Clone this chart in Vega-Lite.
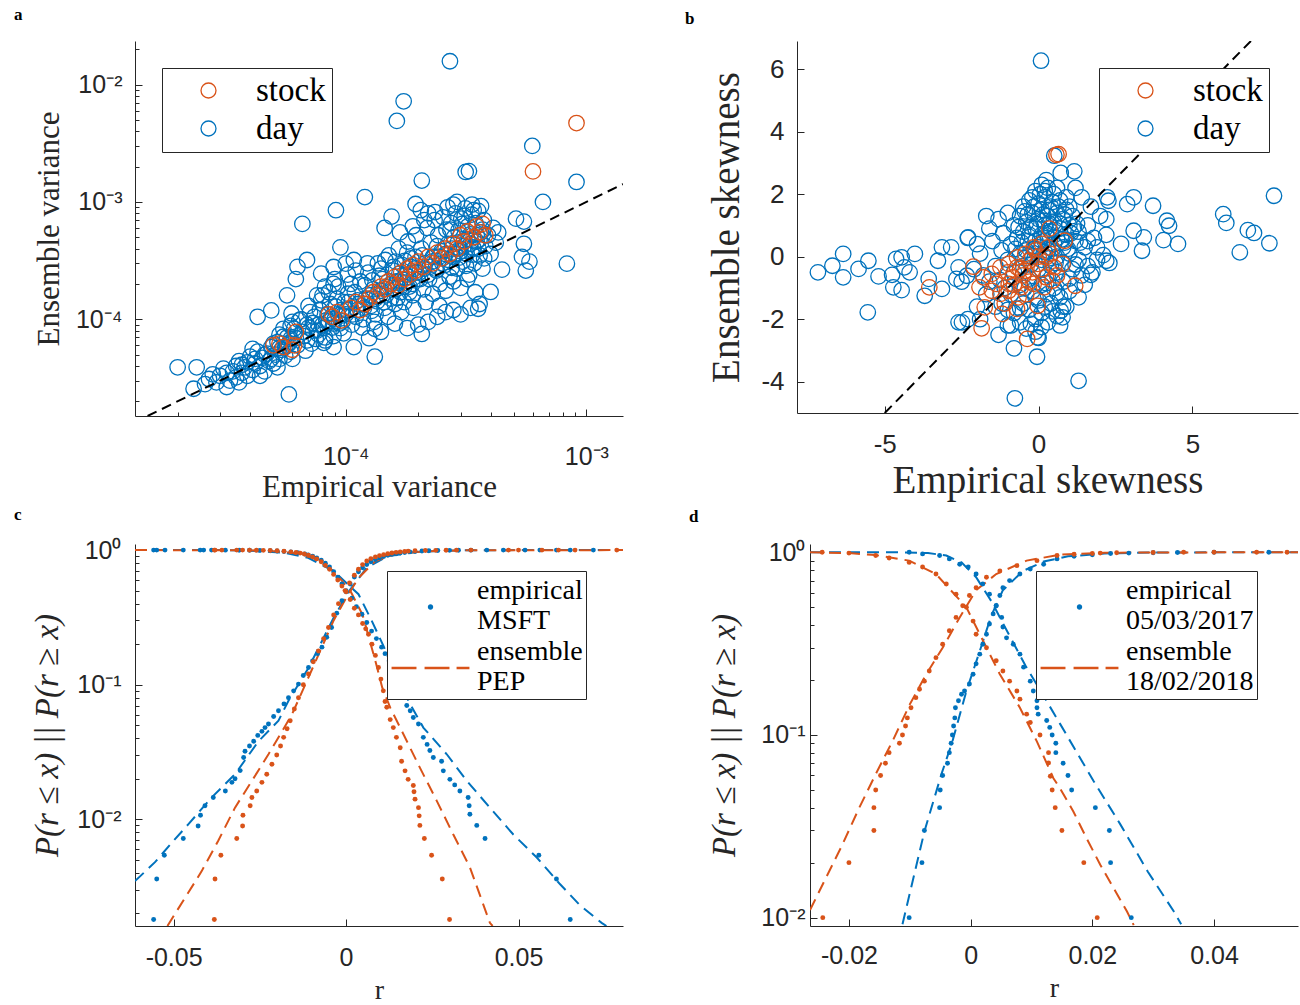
{
"$schema": "https://vega.github.io/schema/vega-lite/v6.json",
"padding": {"left": 14, "top": 6, "right": 2, "bottom": 2},
"config": {
  "view": {"stroke": null},
  "font": "Liberation Sans",
  "axis": {"grid": false, "domainColor": "#262626", "domainWidth": 1, "tickColor": "#262626", "tickWidth": 1, "labelColor": "#262626", "labelFont": "Liberation Sans", "labelFontSize": 25, "titleColor": "#262626", "titleFont": "Liberation Serif", "titleFontWeight": "normal", "labelOverlap": false, "labelFlush": false},
  "legend": {"labelColor": "black"}
},
"datasets": {
"a_day": [
{"x":27.1e-5,"y":1580e-5},{"x":17.4e-5,"y":720e-5},{"x":16.3e-5,"y":490e-5},{"x":59.6e-5,"y":300e-5},{"x":91e-5,"y":148e-5},{"x":31.5e-5,"y":180e-5},{"x":32.5e-5,"y":183e-5},{"x":20.7e-5,"y":152e-5},{"x":12e-5,"y":110e-5},{"x":66e-5,"y":100e-5},{"x":29e-5,"y":100e-5},{"x":19.5e-5,"y":96e-5},{"x":9.1e-5,"y":85e-5},{"x":6.6e-5,"y":65e-5},{"x":83e-5,"y":29.8e-5},{"x":9.5e-5,"y":41e-5},{"x":6.9e-5,"y":32e-5},{"x":6.3e-5,"y":28e-5},{"x":6.2e-5,"y":22e-5},{"x":44.6e-5,"y":26.5e-5},{"x":40e-5,"y":17.1e-5},{"x":35.5e-5,"y":12.3e-5},{"x":36e-5,"y":13.5e-5},{"x":20.7e-5,"y":7.5e-5},{"x":13.2e-5,"y":4.8e-5},{"x":5.8e-5,"y":2.29e-5},{"x":51e-5,"y":72e-5},{"x":55e-5,"y":68e-5},{"x":55e-5,"y":44e-5},{"x":54e-5,"y":34e-5},{"x":58e-5,"y":31e-5},{"x":56e-5,"y":26e-5},{"x":2.0e-5,"y":3.9e-5},{"x":2.4e-5,"y":3.9e-5},{"x":2.33e-5,"y":2.56e-5},{"x":3.2e-5,"y":2.65e-5},
{"x":2.6e-5,"y":2.8e-5},{"x":2.7e-5,"y":3.1e-5},{"x":2.8e-5,"y":3.4e-5},{"x":2.9e-5,"y":2.9e-5},{"x":3.0e-5,"y":3.3e-5},{"x":3.1e-5,"y":3.8e-5},{"x":3.3e-5,"y":3.0e-5},{"x":3.4e-5,"y":3.6e-5},{"x":3.5e-5,"y":4.0e-5},{"x":3.5e-5,"y":3.2e-5},{"x":3.6e-5,"y":4.4e-5},{"x":3.7e-5,"y":3.5e-5},{"x":3.8e-5,"y":3.9e-5},{"x":3.9e-5,"y":4.3e-5},{"x":3.9e-5,"y":3.3e-5},{"x":3.6e-5,"y":2.9e-5},{"x":4.0e-5,"y":4.8e-5},{"x":4.1e-5,"y":3.7e-5},{"x":4.2e-5,"y":4.2e-5},{"x":4.3e-5,"y":5.3e-5},{"x":4.4e-5,"y":4.0e-5},{"x":4.5e-5,"y":4.7e-5},{"x":4.6e-5,"y":3.6e-5},{"x":4.7e-5,"y":5.1e-5},{"x":4.8e-5,"y":4.4e-5},{"x":4.9e-5,"y":5.8e-5},{"x":4.4e-5,"y":3.3e-5},{"x":4.1e-5,"y":5.6e-5},{"x":5.0e-5,"y":4.2e-5},{"x":5.1e-5,"y":5.0e-5},{"x":5.2e-5,"y":6.4e-5},{"x":5.3e-5,"y":4.6e-5},{"x":5.4e-5,"y":5.5e-5},{"x":5.5e-5,"y":7.1e-5},{"x":5.6e-5,"y":4.9e-5},{"x":5.7e-5,"y":6.0e-5},{"x":5.9e-5,"y":5.3e-5},{"x":5.2e-5,"y":3.9e-5},{"x":5.5e-5,"y":8.3e-5},{"x":5.9e-5,"y":6.8e-5},
{"x":5.0e-5,"y":6.2e-5},{"x":5.3e-5,"y":7.4e-5},{"x":5.6e-5,"y":5.8e-5},{"x":5.9e-5,"y":8.8e-5},{"x":6.2e-5,"y":6.9e-5},{"x":6.4e-5,"y":9.8e-5},{"x":6.7e-5,"y":7.2e-5},{"x":7.0e-5,"y":8.5e-5},{"x":7.2e-5,"y":6.2e-5},{"x":7.4e-5,"y":10.5e-5},{"x":7.6e-5,"y":8.0e-5},{"x":7.8e-5,"y":12.0e-5},{"x":8.0e-5,"y":9.0e-5},{"x":8.2e-5,"y":7.0e-5},{"x":8.4e-5,"y":11.0e-5},{"x":8.6e-5,"y":13.5e-5},{"x":8.8e-5,"y":8.5e-5},{"x":9.0e-5,"y":10.0e-5},{"x":9.2e-5,"y":15.0e-5},{"x":9.4e-5,"y":9.2e-5},{"x":9.6e-5,"y":12.0e-5},{"x":9.8e-5,"y":7.6e-5},{"x":6.0e-5,"y":4.6e-5},{"x":6.8e-5,"y":5.4e-5},{"x":7.5e-5,"y":6.8e-5},{"x":8.1e-5,"y":6.3e-5},{"x":8.9e-5,"y":7.2e-5},{"x":9.7e-5,"y":10.8e-5},{"x":7.1e-5,"y":11.5e-5},{"x":7.9e-5,"y":14.5e-5},{"x":8.5e-5,"y":17.0e-5},{"x":9.3e-5,"y":19.0e-5},{"x":6.5e-5,"y":10.0e-5},{"x":7.3e-5,"y":9.3e-5},{"x":8.3e-5,"y":9.8e-5},{"x":9.1e-5,"y":12.8e-5},{"x":9.9e-5,"y":14.0e-5},{"x":6.1e-5,"y":8.3e-5},{"x":5.7e-5,"y":7.0e-5},{"x":6.9e-5,"y":9.0e-5},{"x":7.7e-5,"y":7.4e-5},{"x":8.7e-5,"y":10.4e-5},{"x":9.5e-5,"y":8.4e-5},
{"x":10.0e-5,"y":11.0e-5},{"x":10.3e-5,"y":14.0e-5},{"x":10.6e-5,"y":9.0e-5},{"x":10.9e-5,"y":17.0e-5},{"x":11.2e-5,"y":12.0e-5},{"x":11.5e-5,"y":21.0e-5},{"x":11.8e-5,"y":10.0e-5},{"x":12.1e-5,"y":15.0e-5},{"x":12.4e-5,"y":25.0e-5},{"x":12.7e-5,"y":13.0e-5},{"x":13.0e-5,"y":18.0e-5},{"x":13.3e-5,"y":11.0e-5},{"x":13.6e-5,"y":30.0e-5},{"x":13.9e-5,"y":16.0e-5},{"x":14.2e-5,"y":22.0e-5},{"x":14.5e-5,"y":12.5e-5},{"x":14.8e-5,"y":19.0e-5},{"x":15.1e-5,"y":35.0e-5},{"x":15.4e-5,"y":15.0e-5},{"x":15.7e-5,"y":26.0e-5},{"x":16.0e-5,"y":13.5e-5},{"x":16.3e-5,"y":21.0e-5},{"x":16.6e-5,"y":40.0e-5},{"x":16.9e-5,"y":17.0e-5},{"x":17.2e-5,"y":29.0e-5},{"x":17.5e-5,"y":14.0e-5},{"x":17.8e-5,"y":24.0e-5},{"x":18.1e-5,"y":46.0e-5},{"x":18.4e-5,"y":19.0e-5},{"x":18.7e-5,"y":33.0e-5},{"x":19.0e-5,"y":16.0e-5},{"x":19.3e-5,"y":27.0e-5},{"x":19.6e-5,"y":52.0e-5},{"x":19.9e-5,"y":22.0e-5},{"x":10.5e-5,"y":20.0e-5},{"x":11.0e-5,"y":26.0e-5},{"x":11.7e-5,"y":8.5e-5},{"x":12.3e-5,"y":30.0e-5},{"x":13.1e-5,"y":9.5e-5},{"x":14.0e-5,"y":27.0e-5},{"x":15.0e-5,"y":10.5e-5},{"x":16.1e-5,"y":31.0e-5},{"x":17.0e-5,"y":11.5e-5},{"x":18.0e-5,"y":37.0e-5},{"x":19.1e-5,"y":12.5e-5},{"x":10.2e-5,"y":16.5e-5},{"x":12.9e-5,"y":21.5e-5},{"x":14.6e-5,"y":32.0e-5},{"x":16.7e-5,"y":24.5e-5},{"x":18.6e-5,"y":28.0e-5},{"x":15.6e-5,"y":18.5e-5},{"x":13.5e-5,"y":14.2e-5},{"x":17.7e-5,"y":20.5e-5},{"x":19.5e-5,"y":34.0e-5},{"x":11.3e-5,"y":13.5e-5},
{"x":20.2e-5,"y":25.0e-5},{"x":20.6e-5,"y":40.0e-5},{"x":21.0e-5,"y":18.0e-5},{"x":21.4e-5,"y":30.0e-5},{"x":21.8e-5,"y":60.0e-5},{"x":22.2e-5,"y":22.0e-5},{"x":22.6e-5,"y":45.0e-5},{"x":23.0e-5,"y":34.0e-5},{"x":23.4e-5,"y":70.0e-5},{"x":23.8e-5,"y":26.0e-5},{"x":24.2e-5,"y":52.0e-5},{"x":24.6e-5,"y":20.0e-5},{"x":25.0e-5,"y":38.0e-5},{"x":25.4e-5,"y":74.0e-5},{"x":25.8e-5,"y":29.0e-5},{"x":26.2e-5,"y":58.0e-5},{"x":26.6e-5,"y":44.0e-5},{"x":27.0e-5,"y":23.0e-5},{"x":27.4e-5,"y":66.0e-5},{"x":27.8e-5,"y":34.0e-5},{"x":28.2e-5,"y":50.0e-5},{"x":28.6e-5,"y":80.0e-5},{"x":29.0e-5,"y":27.0e-5},{"x":29.4e-5,"y":57.0e-5},{"x":29.8e-5,"y":40.0e-5},{"x":30.2e-5,"y":72.0e-5},{"x":30.6e-5,"y":31.0e-5},{"x":31.0e-5,"y":47.0e-5},{"x":31.4e-5,"y":88.0e-5},{"x":31.8e-5,"y":36.0e-5},{"x":32.2e-5,"y":62.0e-5},{"x":32.6e-5,"y":24.0e-5},{"x":33.0e-5,"y":53.0e-5},{"x":33.4e-5,"y":78.0e-5},{"x":33.8e-5,"y":41.0e-5},{"x":34.2e-5,"y":30.0e-5},{"x":34.6e-5,"y":66.0e-5},{"x":35.0e-5,"y":46.0e-5},{"x":35.5e-5,"y":84.0e-5},{"x":36.0e-5,"y":35.0e-5},{"x":36.5e-5,"y":55.0e-5},{"x":37.0e-5,"y":27.0e-5},{"x":37.5e-5,"y":70.0e-5},{"x":38.0e-5,"y":42.0e-5},{"x":39.0e-5,"y":52.0e-5},{"x":40.0e-5,"y":36.0e-5},{"x":41.0e-5,"y":60.0e-5},{"x":42.0e-5,"y":45.0e-5},{"x":43.0e-5,"y":55.0e-5},{"x":21.5e-5,"y":14.0e-5},{"x":23.0e-5,"y":16.5e-5},{"x":24.5e-5,"y":13.0e-5},{"x":26.0e-5,"y":17.5e-5},{"x":28.0e-5,"y":21.0e-5},{"x":30.0e-5,"y":18.5e-5},{"x":32.0e-5,"y":22.0e-5},{"x":34.5e-5,"y":17.0e-5},{"x":22.0e-5,"y":80.0e-5},{"x":26.5e-5,"y":90.0e-5},{"x":30.5e-5,"y":65.0e-5},{"x":25.2e-5,"y":33.0e-5},{"x":27.6e-5,"y":27.5e-5},{"x":29.6e-5,"y":33.5e-5},{"x":31.6e-5,"y":28.5e-5},{"x":33.6e-5,"y":35.5e-5},{"x":35.6e-5,"y":40.0e-5},{"x":37.6e-5,"y":33.0e-5},{"x":20.8e-5,"y":35.0e-5},{"x":22.4e-5,"y":28.0e-5},{"x":24.0e-5,"y":42.0e-5},{"x":31.2e-5,"y":76.0e-5},
{"x":14.5e-5,"y":60e-5},{"x":15.5e-5,"y":75e-5},{"x":19.0e-5,"y":62e-5},{"x":20.5e-5,"y":85e-5},{"x":23.5e-5,"y":82e-5},{"x":28.0e-5,"y":95e-5},{"x":33.5e-5,"y":95e-5},{"x":36.5e-5,"y":92e-5},{"x":34.0e-5,"y":85e-5},{"x":21.2e-5,"y":70e-5},{"x":16.8e-5,"y":55e-5},{"x":27.2e-5,"y":58e-5},{"x":7.9e-5,"y":24.5e-5},{"x":8.9e-5,"y":27.9e-5},{"x":10e-5,"y":29.8e-5},{"x":10.8e-5,"y":32e-5},{"x":8.9e-5,"y":20e-5},{"x":8.2e-5,"y":19e-5},{"x":7.6e-5,"y":16e-5},{"x":5.7e-5,"y":16e-5},{"x":4.9e-5,"y":11.9e-5},{"x":4.3e-5,"y":10.5e-5},{"x":5.95e-5,"y":11.2e-5},{"x":13.2e-5,"y":8.3e-5},{"x":12.5e-5,"y":6.9e-5},{"x":10.8e-5,"y":5.8e-5},{"x":8.9e-5,"y":5.8e-5},{"x":8.2e-5,"y":6.6e-5},{"x":24e-5,"y":10.5e-5},{"x":26e-5,"y":11.5e-5},{"x":28e-5,"y":12.0e-5},{"x":30e-5,"y":11.0e-5},{"x":33e-5,"y":12.5e-5},{"x":22e-5,"y":9.5e-5},{"x":20e-5,"y":9.0e-5},{"x":18e-5,"y":8.4e-5},{"x":16e-5,"y":9.2e-5},{"x":14e-5,"y":7.8e-5},
{"x":3.2e-5,"y":3.5e-5},{"x":3.7e-5,"y":4.1e-5},{"x":4.2e-5,"y":4.6e-5},{"x":4.6e-5,"y":5.0e-5},{"x":4.9e-5,"y":4.6e-5},{"x":5.3e-5,"y":5.7e-5},{"x":5.8e-5,"y":6.2e-5},{"x":6.3e-5,"y":6.0e-5},{"x":6.6e-5,"y":7.8e-5},{"x":6.9e-5,"y":6.6e-5},{"x":7.3e-5,"y":8.0e-5},{"x":7.7e-5,"y":9.0e-5},{"x":8.1e-5,"y":8.4e-5},{"x":8.5e-5,"y":9.6e-5},{"x":8.9e-5,"y":9.2e-5},{"x":9.3e-5,"y":10.8e-5},{"x":9.7e-5,"y":9.6e-5},{"x":10.1e-5,"y":12.0e-5},{"x":10.7e-5,"y":11.0e-5},{"x":11.2e-5,"y":14.5e-5},{"x":11.9e-5,"y":12.5e-5},{"x":12.6e-5,"y":16.0e-5},{"x":13.3e-5,"y":15.0e-5},{"x":14.0e-5,"y":17.5e-5},{"x":14.7e-5,"y":16.0e-5},{"x":15.4e-5,"y":20.0e-5},{"x":16.1e-5,"y":18.0e-5},{"x":16.8e-5,"y":21.0e-5},{"x":17.5e-5,"y":19.0e-5},{"x":18.2e-5,"y":23.0e-5},{"x":18.9e-5,"y":20.0e-5},{"x":19.6e-5,"y":25.0e-5},{"x":20.4e-5,"y":22.0e-5},{"x":21.2e-5,"y":27.0e-5},{"x":22.0e-5,"y":24.0e-5},{"x":22.8e-5,"y":31.0e-5},{"x":23.6e-5,"y":27.0e-5},{"x":24.4e-5,"y":34.0e-5},{"x":25.2e-5,"y":30.0e-5},{"x":26.0e-5,"y":36.0e-5},{"x":26.8e-5,"y":32.0e-5},{"x":27.6e-5,"y":40.0e-5},{"x":28.4e-5,"y":36.0e-5},{"x":29.2e-5,"y":45.0e-5},{"x":30.0e-5,"y":38.0e-5},{"x":31.0e-5,"y":42.0e-5},{"x":32.0e-5,"y":48.0e-5},{"x":33.0e-5,"y":44.0e-5},{"x":34.0e-5,"y":40.0e-5},{"x":35.0e-5,"y":52.0e-5},{"x":36.0e-5,"y":48.0e-5},{"x":37.0e-5,"y":58.0e-5},{"x":12.0e-5,"y":19.5e-5},{"x":13.8e-5,"y":23.5e-5},{"x":15.8e-5,"y":28.0e-5},{"x":17.6e-5,"y":31.5e-5},{"x":11.0e-5,"y":10.5e-5},{"x":12.8e-5,"y":11.8e-5},{"x":14.4e-5,"y":14.0e-5},{"x":16.4e-5,"y":15.2e-5},{"x":18.4e-5,"y":17.0e-5},{"x":6.0e-5,"y":9.5e-5},{"x":7.0e-5,"y":13.0e-5},{"x":8.0e-5,"y":16.0e-5},{"x":9.0e-5,"y":22.0e-5},{"x":10.2e-5,"y":24.0e-5}
],
"a_stock": [
{"x":5.0e-5,"y":6.0e-5},{"x":5.3e-5,"y":6.2e-5},{"x":5.5e-5,"y":5.8e-5},{"x":6.0e-5,"y":5.5e-5},{"x":6.1e-5,"y":6.0e-5},{"x":6.2e-5,"y":7.8e-5},{"x":8.5e-5,"y":11.0e-5},{"x":8.8e-5,"y":10.5e-5},{"x":9.2e-5,"y":11.5e-5},{"x":9.6e-5,"y":9.8e-5},{"x":10.5e-5,"y":12.5e-5},{"x":11.0e-5,"y":14.0e-5},{"x":11.5e-5,"y":12.0e-5},{"x":12.0e-5,"y":13.5e-5},{"x":12.5e-5,"y":15.0e-5},{"x":13.0e-5,"y":17.0e-5},{"x":13.5e-5,"y":16.0e-5},{"x":14.0e-5,"y":19.0e-5},{"x":14.5e-5,"y":18.0e-5},{"x":15.0e-5,"y":21.0e-5},{"x":15.5e-5,"y":20.0e-5},{"x":16.0e-5,"y":23.0e-5},{"x":16.5e-5,"y":19.5e-5},{"x":17.0e-5,"y":25.0e-5},{"x":17.5e-5,"y":22.0e-5},{"x":18.0e-5,"y":27.0e-5},{"x":18.5e-5,"y":24.0e-5},{"x":19.0e-5,"y":29.0e-5},{"x":19.5e-5,"y":26.0e-5},{"x":20.0e-5,"y":31.0e-5},{"x":21.0e-5,"y":28.0e-5},{"x":22.0e-5,"y":34.0e-5},{"x":23.0e-5,"y":30.0e-5},{"x":24.0e-5,"y":37.0e-5},{"x":25.0e-5,"y":33.0e-5},{"x":26.0e-5,"y":40.0e-5},{"x":27.0e-5,"y":36.0e-5},{"x":28.0e-5,"y":44.0e-5},{"x":29.0e-5,"y":40.0e-5},{"x":30.0e-5,"y":52.0e-5},{"x":31.0e-5,"y":46.0e-5},{"x":32.0e-5,"y":56.0e-5},{"x":34.0e-5,"y":50.0e-5},{"x":35.0e-5,"y":62.0e-5},{"x":36.0e-5,"y":55.0e-5},{"x":37.0e-5,"y":65.0e-5},{"x":38.0e-5,"y":52.0e-5},{"x":60.0e-5,"y":182.0e-5},{"x":91.0e-5,"y":470.0e-5}
],
"b_day": [
{"x":0.1,"y":2.3},{"x":0.3,"y":2.2},{"x":-0.1,"y":2.1},{"x":0.5,"y":2.0},{"x":0.2,"y":1.9},{"x":-0.3,"y":1.8},{"x":0.7,"y":1.8},{"x":0.0,"y":1.7},{"x":0.4,"y":1.6},{"x":-0.5,"y":1.6},{"x":0.9,"y":1.5},{"x":0.1,"y":1.5},{"x":-0.2,"y":1.4},{"x":0.6,"y":1.4},{"x":0.3,"y":1.3},{"x":-0.6,"y":1.3},{"x":1.1,"y":1.3},{"x":0.0,"y":1.2},{"x":0.8,"y":1.2},{"x":-0.4,"y":1.1},{"x":0.5,"y":1.1},{"x":0.2,"y":1.0},{"x":-0.8,"y":1.0},{"x":1.0,"y":1.0},{"x":-0.1,"y":0.9},{"x":0.7,"y":0.9},{"x":0.4,"y":0.8},{"x":-0.5,"y":0.8},{"x":1.3,"y":0.8},{"x":0.1,"y":0.7},{"x":-0.3,"y":0.7},{"x":0.9,"y":0.7},{"x":0.6,"y":0.6},{"x":-0.7,"y":0.6},{"x":0.2,"y":0.5},{"x":1.2,"y":0.5},{"x":-0.1,"y":0.5},{"x":0.5,"y":0.4},{"x":-0.9,"y":0.4},{"x":0.8,"y":0.3},{"x":0.0,"y":0.3},{"x":1.5,"y":0.3},{"x":-0.4,"y":0.2},{"x":0.3,"y":0.2},{"x":1.0,"y":0.1},{"x":-0.6,"y":0.1},{"x":0.6,"y":0.0},{"x":-0.2,"y":0.0},{"x":1.3,"y":-0.1},{"x":0.1,"y":-0.1},{"x":-1.0,"y":-0.1},{"x":0.8,"y":-0.2},{"x":0.4,"y":-0.3},{"x":-0.5,"y":-0.3},{"x":1.1,"y":-0.4},{"x":0.0,"y":-0.4},{"x":0.6,"y":-0.5},{"x":-0.8,"y":-0.5},{"x":0.3,"y":-0.6},{"x":1.4,"y":-0.6},{"x":-0.3,"y":-0.7},{"x":0.8,"y":-0.8},{"x":0.1,"y":-0.9},{"x":-0.6,"y":-0.9},{"x":0.5,"y":-1.0},{"x":1.0,"y":-1.1},{"x":-0.2,"y":-1.1},{"x":0.3,"y":-1.2},{"x":-0.9,"y":-1.2},{"x":0.7,"y":-1.3},{"x":0.0,"y":-1.4},{"x":-0.5,"y":-1.5},{"x":0.4,"y":-1.5},{"x":-1.2,"y":-1.5},{"x":0.8,"y":-1.6},{"x":-0.3,"y":-1.7},{"x":0.1,"y":-1.8},{"x":-0.8,"y":-1.8},{"x":0.6,"y":-1.9},{"x":-0.1,"y":-2.0},{"x":-0.6,"y":-2.1},{"x":0.3,"y":-2.1},{"x":-0.4,"y":-2.3},{"x":-0.1,"y":-2.4},{"x":-0.9,"y":-2.2},{"x":0.0,"y":-2.6},
{"x":0.25,"y":2.45},{"x":0.05,"y":2.0},{"x":0.45,"y":1.75},{"x":-0.15,"y":1.6},{"x":0.65,"y":1.6},{"x":0.15,"y":1.35},{"x":0.35,"y":1.05},{"x":-0.35,"y":1.35},{"x":0.85,"y":1.35},{"x":-0.05,"y":1.05},{"x":0.55,"y":0.85},{"x":0.25,"y":0.75},{"x":-0.25,"y":0.95},{"x":0.75,"y":0.55},{"x":0.05,"y":0.55},{"x":0.45,"y":0.25},{"x":-0.15,"y":0.25},{"x":1.05,"y":0.75},{"x":-0.55,"y":0.45},{"x":0.95,"y":0.25},{"x":0.15,"y":0.05},{"x":-0.45,"y":-0.05},{"x":0.35,"y":-0.05},{"x":1.25,"y":1.05},{"x":-1.15,"y":0.75},{"x":-1.3,"y":1.2},{"x":-1.5,"y":0.5},{"x":-1.2,"y":0.2},{"x":-1.4,"y":-0.3},{"x":-1.7,"y":1.3},{"x":-1.8,"y":-0.6},{"x":-1.6,"y":-0.8},{"x":-1.9,"y":0.1},{"x":-2.1,"y":-0.4},{"x":-2.3,"y":0.6},{"x":-2.5,"y":-0.8},{"x":1.6,"y":1.0},{"x":1.8,"y":0.6},{"x":1.7,"y":1.6},{"x":1.9,"y":-0.1},{"x":2.0,"y":1.3},{"x":1.6,"y":-0.3},{"x":1.4,"y":1.9},{"x":1.2,"y":2.2},{"x":2.2,"y":0.7},{"x":2.2,"y":1.2},{"x":2.3,"y":-0.2},{"x":1.9,"y":0.3},{"x":1.5,"y":-0.9},{"x":1.0,"y":-0.7},{"x":0.9,"y":-1.6},{"x":0.7,"y":-2.2},{"x":-1.1,"y":-1.0},{"x":-1.4,"y":-1.6},{"x":-1.7,"y":-1.2},{"x":-2.0,"y":-1.6},{"x":-2.3,"y":-2.0},{"x":-2.6,"y":-2.1},{"x":-1.9,"y":-2.0},{"x":-1.3,"y":-2.5},{"x":-1.0,"y":-2.2},
{"x":0.2,"y":2.1},{"x":0.6,"y":2.2},{"x":-0.2,"y":1.9},{"x":0.9,"y":1.9},{"x":0.35,"y":1.5},{"x":-0.45,"y":1.45},{"x":1.0,"y":1.6},{"x":0.15,"y":1.15},{"x":0.7,"y":1.05},{"x":-0.65,"y":0.95},{"x":1.15,"y":0.95},{"x":0.3,"y":0.6},{"x":-0.35,"y":0.5},{"x":0.85,"y":0.45},{"x":1.35,"y":0.45},{"x":-0.75,"y":0.25},{"x":0.2,"y":0.15},{"x":0.55,"y":-0.2},{"x":-0.25,"y":-0.25},{"x":1.2,"y":-0.25},{"x":0.25,"y":-0.85},{"x":-0.45,"y":-1.0},{"x":0.6,"y":-1.15},{"x":-0.1,"y":-1.3},{"x":0.2,"y":-1.6},{"x":-0.6,"y":-1.65},{"x":0.45,"y":-1.75},{"x":-0.25,"y":-2.15},{"x":0.1,"y":-2.25},{"x":-1.0,"y":-1.7},{"x":-1.6,"y":0.9},{"x":-1.0,"y":1.4},{"x":1.6,"y":0.5},{"x":1.75,"y":-0.5},{"x":2.1,"y":0.05},{"x":-2.0,"y":0.4},{"x":-1.25,"y":-0.75},{"x":1.3,"y":-1.3},
{"x":0.08,"y":6.27},{"x":7.65,"y":1.95},{"x":6.0,"y":1.36},{"x":6.1,"y":1.08},{"x":6.8,"y":0.85},{"x":7.0,"y":0.76},{"x":7.5,"y":0.43},{"x":6.54,"y":0.14},{"x":3.72,"y":1.63},{"x":3.09,"y":1.9},{"x":2.88,"y":1.68},{"x":4.17,"y":1.15},{"x":4.24,"y":0.99},{"x":4.06,"y":0.53},{"x":4.53,"y":0.41},{"x":3.42,"y":0.62},{"x":3.36,"y":0.19},{"x":3.09,"y":0.83},{"x":2.68,"y":0.41},{"x":1.16,"y":2.73},{"x":0.72,"y":2.68},{"x":0.51,"y":3.23},{"x":1.3,"y":-3.97},{"x":-0.77,"y":-4.53},{"x":-0.05,"y":-3.2},{"x":-0.8,"y":-2.93},{"x":-5.55,"y":-1.78},{"x":-7.17,"y":-0.5},{"x":-6.7,"y":-0.29},{"x":-6.35,"y":0.09},{"x":-6.35,"y":-0.66},{"x":-5.85,"y":-0.39},{"x":-5.53,"y":-0.13},{"x":-5.2,"y":-0.63},{"x":-4.76,"y":-0.58},{"x":-4.63,"y":-0.07},{"x":-4.45,"y":-0.02},{"x":-4.72,"y":-0.98},{"x":-4.45,"y":-1.07},{"x":-4.36,"y":-0.34},{"x":-4.19,"y":-0.5},{"x":-4.02,"y":0.09},{"x":-3.57,"y":-0.71},{"x":-3.7,"y":-1.25},{"x":-3.14,"y":-1.03},{"x":-3.27,"y":-0.13},{"x":-3.14,"y":0.3},{"x":-2.84,"y":0.3},{"x":-2.6,"y":-0.34},{"x":-2.67,"y":-0.71},{"x":-2.33,"y":-0.61},{"x":-2.49,"y":-2.1},{"x":-2.29,"y":0.62},{"x":0.72,"y":-1.73},{"x":0.78,"y":-1.94},{"x":1.7,"y":-0.58},{"x":2.2,"y":-0.13},{"x":2.27,"y":1.79},{"x":2.23,"y":1.9},{"x":-0.03,"y":-2.58}
],
"b_stock": [
{"x":0.65,"y":3.28},{"x":0.58,"y":3.26},{"x":0.35,"y":0.9},{"x":0.85,"y":0.51},{"x":-3.55,"y":-0.98},{"x":-2.12,"y":-0.32},{"x":1.19,"y":-0.93},{"x":-1.85,"y":-2.29},{"x":-1.75,"y":-1.62},{"x":-0.37,"y":-2.63},{"x":-0.03,"y":-1.57},{"x":-1.18,"y":-1.83},{"x":-0.7,"y":-1.67},
{"x":-1.92,"y":-0.98},{"x":-1.79,"y":-0.66},{"x":-1.52,"y":-0.55},{"x":-1.24,"y":-0.34},{"x":-0.97,"y":-0.23},{"x":-0.70,"y":-0.02},{"x":-0.43,"y":0.09},{"x":-0.16,"y":0.30},{"x":0.11,"y":0.41},{"x":0.38,"y":0.09},{"x":0.51,"y":-0.34},{"x":0.78,"y":-0.23},{"x":0.24,"y":-0.66},{"x":-0.16,"y":-0.87},{"x":-0.57,"y":-0.98},{"x":-0.97,"y":-1.09},{"x":-1.24,"y":-1.19},{"x":-0.84,"y":-0.66},{"x":-0.43,"y":-0.45},{"x":-0.03,"y":-0.23},{"x":0.24,"y":-0.02},{"x":-0.70,"y":-0.34},{"x":-0.30,"y":-0.13},{"x":-0.97,"y":-0.87},{"x":-1.38,"y":-0.87},{"x":0.45,"y":-0.77},{"x":0.18,"y":-0.98},{"x":-1.52,"y":-1.09},
{"x":-0.5,"y":-0.6},{"x":-0.6,"y":-0.4},{"x":-0.2,"y":-0.5},{"x":-0.8,"y":-0.9},{"x":0.0,"y":0.0},{"x":-0.3,"y":-0.8},{"x":-1.0,"y":-0.5},{"x":0.1,"y":-0.4},{"x":-0.4,"y":-1.2},{"x":0.3,"y":0.3},{"x":-0.1,"y":0.2},{"x":-0.65,"y":-1.3},{"x":-1.1,"y":-1.5},{"x":0.6,"y":-0.6}
],
"c_bl": [
{"k":"cdf","x":-0.0612,"y":0.00347},{"k":"cdf","x":-0.0554,"y":0.0048},{"k":"cdf","x":-0.0505,"y":0.0067},{"k":"cdf","x":-0.0457,"y":0.0092},{"k":"cdf","x":-0.039,"y":0.0145},{"k":"cdf","x":-0.0322,"y":0.0216},{"k":"cdf","x":-0.0254,"y":0.038},{"k":"cdf","x":-0.0196,"y":0.054},{"k":"cdf","x":-0.0167,"y":0.076},{"k":"cdf","x":-0.0109,"y":0.133},{"k":"cdf","x":-0.0036,"y":0.314},{"k":"cdf","x":0.0012,"y":0.51},{"k":"cdf","x":0.006,"y":0.74},{"k":"cdf","x":0.012,"y":0.9},{"k":"cdf","x":0.0205,"y":0.97},{"k":"cdf","x":0.0326,"y":0.995},{"k":"cdf","x":0.05,"y":1.0},{"k":"cdf","x":0.0803,"y":1.0},
{"k":"ccdf","x":-0.0612,"y":1.0},{"k":"ccdf","x":-0.035,"y":1.0},{"k":"ccdf","x":-0.028,"y":0.99},{"k":"ccdf","x":-0.018,"y":0.955},{"k":"ccdf","x":-0.011,"y":0.877},{"k":"ccdf","x":-0.0036,"y":0.7},{"k":"ccdf","x":0.0036,"y":0.47},{"k":"ccdf","x":0.0074,"y":0.3},{"k":"ccdf","x":0.011,"y":0.19},{"k":"ccdf","x":0.0145,"y":0.115},{"k":"ccdf","x":0.0186,"y":0.0716},{"k":"ccdf","x":0.0224,"y":0.048},{"k":"ccdf","x":0.0292,"y":0.0304},{"k":"ccdf","x":0.035,"y":0.0193},{"k":"ccdf","x":0.0417,"y":0.0122},{"k":"ccdf","x":0.0485,"y":0.0077},{"k":"ccdf","x":0.0553,"y":0.0052},{"k":"ccdf","x":0.062,"y":0.0033},{"k":"ccdf","x":0.0678,"y":0.0023},{"k":"ccdf","x":0.0741,"y":0.0017},{"k":"ccdf","x":0.0755,"y":0.00161}
],
"c_ol": [
{"k":"cdf","x":-0.0518,"y":0.00161},{"k":"cdf","x":-0.0419,"y":0.0041},{"k":"cdf","x":-0.0371,"y":0.0069},{"k":"cdf","x":-0.0322,"y":0.0122},{"k":"cdf","x":-0.0273,"y":0.0193},{"k":"cdf","x":-0.0225,"y":0.0304},{"k":"cdf","x":-0.0157,"y":0.06},{"k":"cdf","x":-0.0097,"y":0.133},{"k":"cdf","x":-0.0036,"y":0.3},{"k":"cdf","x":0.0,"y":0.44},{"k":"cdf","x":0.0036,"y":0.62},{"k":"cdf","x":0.0085,"y":0.83},{"k":"cdf","x":0.0145,"y":0.94},{"k":"cdf","x":0.023,"y":0.98},{"k":"cdf","x":0.035,"y":0.997},{"k":"cdf","x":0.0803,"y":1.0},
{"k":"ccdf","x":-0.0612,"y":1.0},{"k":"ccdf","x":-0.03,"y":0.998},{"k":"ccdf","x":-0.023,"y":0.99},{"k":"ccdf","x":-0.0157,"y":0.955},{"k":"ccdf","x":-0.0097,"y":0.88},{"k":"ccdf","x":-0.0036,"y":0.7},{"k":"ccdf","x":0.0012,"y":0.5},{"k":"ccdf","x":0.0048,"y":0.33},{"k":"ccdf","x":0.0085,"y":0.15},{"k":"ccdf","x":0.0105,"y":0.095},{"k":"ccdf","x":0.0128,"y":0.0675},{"k":"ccdf","x":0.0166,"y":0.043},{"k":"ccdf","x":0.0214,"y":0.0242},{"k":"ccdf","x":0.0263,"y":0.0137},{"k":"ccdf","x":0.0311,"y":0.0077},{"k":"ccdf","x":0.0359,"y":0.0044},{"k":"ccdf","x":0.0417,"y":0.0017},{"k":"ccdf","x":0.0425,"y":0.00161}
],
"c_bd": [
{"x":-0.0558,"y":0.0018},{"x":-0.0549,"y":0.0036},{"x":-0.0527,"y":0.0054},{"x":-0.0472,"y":0.0072},{"x":-0.0429,"y":0.0089},{"x":-0.0422,"y":0.0107},{"x":-0.0409,"y":0.0126},{"x":-0.0385,"y":0.0145},{"x":-0.035,"y":0.0162},{"x":-0.0331,"y":0.0188},{"x":-0.0322,"y":0.02},{"x":-0.0307,"y":0.023},{"x":-0.0297,"y":0.0288},{"x":-0.0293,"y":0.032},{"x":-0.028,"y":0.035},{"x":-0.0268,"y":0.038},{"x":-0.0256,"y":0.042},{"x":-0.0244,"y":0.045},{"x":-0.0235,"y":0.048},{"x":-0.0225,"y":0.051},{"x":-0.021,"y":0.058},{"x":-0.0196,"y":0.064},{"x":-0.018,"y":0.072},{"x":-0.0167,"y":0.08},{"x":-0.0152,"y":0.09},{"x":-0.0138,"y":0.101},{"x":-0.0124,"y":0.117},{"x":-0.0109,"y":0.134},{"x":-0.0097,"y":0.15},{"x":-0.0083,"y":0.17},{"x":-0.007,"y":0.19},{"x":-0.0056,"y":0.225},{"x":-0.0042,"y":0.266},{"x":-0.0027,"y":0.34},{"x":-0.0012,"y":0.42},{"x":0.0,"y":0.49},{"x":0.0012,"y":0.56},{"x":0.0024,"y":0.63},{"x":0.0036,"y":0.69},{"x":0.0048,"y":0.74},{"x":0.006,"y":0.78},{"x":0.0072,"y":0.82},{"x":0.0085,"y":0.85},{"x":0.0097,"y":0.875},{"x":0.0109,"y":0.895},{"x":0.0121,"y":0.915},{"x":0.0133,"y":0.93},{"x":0.0145,"y":0.94},{"x":0.0157,"y":0.95},{"x":0.017,"y":0.96},{"x":0.0185,"y":0.97},{"x":0.02,"y":0.977},{"x":0.022,"y":0.984},{"x":0.024,"y":0.989},{"x":0.0266,"y":0.993},{"x":0.03,"y":0.996},{"x":0.0326,"y":0.998},{"x":0.0362,"y":0.999},{"x":0.0408,"y":1.0},{"x":0.0456,"y":1.0},{"x":0.0519,"y":1.0},{"x":0.0562,"y":1.0},{"x":0.061,"y":1.0},{"x":0.065,"y":1.0},{"x":0.0717,"y":1.0},
{"x":-0.0558,"y":1.0},{"x":-0.0549,"y":1.0},{"x":-0.0525,"y":1.0},{"x":-0.0472,"y":1.0},{"x":-0.0423,"y":1.0},{"x":-0.0413,"y":1.0},{"x":-0.039,"y":1.0},{"x":-0.035,"y":0.999},{"x":-0.031,"y":0.998},{"x":-0.028,"y":0.997},{"x":-0.025,"y":0.995},{"x":-0.022,"y":0.99},{"x":-0.02,"y":0.985},{"x":-0.018,"y":0.977},{"x":-0.016,"y":0.968},{"x":-0.014,"y":0.955},{"x":-0.012,"y":0.935},{"x":-0.011,"y":0.92},{"x":-0.0097,"y":0.9},{"x":-0.0085,"y":0.875},{"x":-0.0072,"y":0.84},{"x":-0.006,"y":0.8},{"x":-0.0048,"y":0.75},{"x":-0.0036,"y":0.69},{"x":-0.0024,"y":0.63},{"x":-0.0012,"y":0.56},{"x":0.0,"y":0.5},{"x":0.0017,"y":0.44},{"x":0.003,"y":0.38},{"x":0.0046,"y":0.334},{"x":0.006,"y":0.29},{"x":0.0074,"y":0.25},{"x":0.0088,"y":0.22},{"x":0.0103,"y":0.19},{"x":0.0113,"y":0.17},{"x":0.0125,"y":0.15},{"x":0.0138,"y":0.13},{"x":0.015,"y":0.11},{"x":0.0157,"y":0.095},{"x":0.0166,"y":0.085},{"x":0.0176,"y":0.07},{"x":0.0186,"y":0.064},{"x":0.0195,"y":0.057},{"x":0.021,"y":0.051},{"x":0.0224,"y":0.0406},{"x":0.0235,"y":0.036},{"x":0.0243,"y":0.0324},{"x":0.0253,"y":0.0288},{"x":0.0277,"y":0.027},{"x":0.0282,"y":0.0229},{"x":0.0301,"y":0.0198},{"x":0.0315,"y":0.018},{"x":0.033,"y":0.0162},{"x":0.0354,"y":0.0145},{"x":0.0357,"y":0.0126},{"x":0.0359,"y":0.0109},{"x":0.0379,"y":0.009},{"x":0.0403,"y":0.0072},{"x":0.0559,"y":0.0054},{"x":0.061,"y":0.0036},{"x":0.065,"y":0.0018}
],
"c_od": [
{"x":-0.0382,"y":0.0018},{"x":-0.038,"y":0.0036},{"x":-0.0363,"y":0.0054},{"x":-0.0317,"y":0.0072},{"x":-0.03,"y":0.0089},{"x":-0.0299,"y":0.0107},{"x":-0.0278,"y":0.0126},{"x":-0.0273,"y":0.0145},{"x":-0.0259,"y":0.0162},{"x":-0.0244,"y":0.0188},{"x":-0.023,"y":0.0216},{"x":-0.0215,"y":0.0256},{"x":-0.0201,"y":0.03},{"x":-0.019,"y":0.035},{"x":-0.0181,"y":0.0406},{"x":-0.0171,"y":0.047},{"x":-0.0162,"y":0.054},{"x":-0.015,"y":0.066},{"x":-0.0138,"y":0.08},{"x":-0.0124,"y":0.1},{"x":-0.0109,"y":0.12},{"x":-0.0095,"y":0.148},{"x":-0.008,"y":0.178},{"x":-0.0065,"y":0.22},{"x":-0.0051,"y":0.266},{"x":-0.0036,"y":0.33},{"x":-0.0022,"y":0.4},{"x":-0.0003,"y":0.5},{"x":0.001,"y":0.57},{"x":0.0024,"y":0.65},{"x":0.0036,"y":0.72},{"x":0.0048,"y":0.78},{"x":0.006,"y":0.83},{"x":0.0072,"y":0.865},{"x":0.0085,"y":0.89},{"x":0.0097,"y":0.91},{"x":0.0109,"y":0.925},{"x":0.0121,"y":0.94},{"x":0.0133,"y":0.952},{"x":0.0145,"y":0.962},{"x":0.0157,"y":0.97},{"x":0.017,"y":0.977},{"x":0.018,"y":0.982},{"x":0.02,"y":0.988},{"x":0.023,"y":0.993},{"x":0.026,"y":0.996},{"x":0.029,"y":0.998},{"x":0.032,"y":0.999},{"x":0.0362,"y":1.0},{"x":0.0471,"y":1.0},{"x":0.05,"y":1.0},{"x":0.0568,"y":1.0},{"x":0.0616,"y":1.0},{"x":0.0664,"y":1.0},{"x":0.0785,"y":1.0},
{"x":-0.0382,"y":1.0},{"x":-0.038,"y":1.0},{"x":-0.036,"y":1.0},{"x":-0.0317,"y":1.0},{"x":-0.03,"y":1.0},{"x":-0.028,"y":0.999},{"x":-0.026,"y":0.998},{"x":-0.024,"y":0.996},{"x":-0.022,"y":0.993},{"x":-0.02,"y":0.988},{"x":-0.018,"y":0.98},{"x":-0.016,"y":0.97},{"x":-0.0145,"y":0.96},{"x":-0.0133,"y":0.95},{"x":-0.0121,"y":0.935},{"x":-0.0109,"y":0.915},{"x":-0.0097,"y":0.89},{"x":-0.0085,"y":0.86},{"x":-0.0072,"y":0.82},{"x":-0.006,"y":0.77},{"x":-0.0048,"y":0.72},{"x":-0.0036,"y":0.66},{"x":-0.0024,"y":0.6},{"x":-0.0012,"y":0.54},{"x":0.0,"y":0.49},{"x":0.0012,"y":0.43},{"x":0.0024,"y":0.37},{"x":0.0036,"y":0.33},{"x":0.0048,"y":0.285},{"x":0.0057,"y":0.26},{"x":0.0065,"y":0.237},{"x":0.0075,"y":0.2},{"x":0.0085,"y":0.165},{"x":0.0094,"y":0.134},{"x":0.0101,"y":0.11},{"x":0.0108,"y":0.09},{"x":0.0113,"y":0.075},{"x":0.0118,"y":0.068},{"x":0.0128,"y":0.055},{"x":0.0137,"y":0.048},{"x":0.0146,"y":0.0406},{"x":0.0157,"y":0.034},{"x":0.0161,"y":0.027},{"x":0.0171,"y":0.0229},{"x":0.018,"y":0.0198},{"x":0.0195,"y":0.0178},{"x":0.0197,"y":0.016},{"x":0.02,"y":0.0141},{"x":0.021,"y":0.0122},{"x":0.0212,"y":0.0106},{"x":0.0214,"y":0.009},{"x":0.0227,"y":0.0072},{"x":0.0248,"y":0.0054},{"x":0.0279,"y":0.0036},{"x":0.03,"y":0.0018}
],
"d_bl": [
{"k":"cdf","x":-0.0112,"y":0.0092},{"k":"cdf","x":-0.0076,"y":0.0296},{"k":"cdf","x":-0.0048,"y":0.061},{"k":"cdf","x":-0.003,"y":0.092},{"k":"cdf","x":-0.0007,"y":0.174},{"k":"cdf","x":0.0015,"y":0.288},{"k":"cdf","x":0.0034,"y":0.45},{"k":"cdf","x":0.0053,"y":0.62},{"k":"cdf","x":0.0086,"y":0.79},{"k":"cdf","x":0.012,"y":0.89},{"k":"cdf","x":0.016,"y":0.95},{"k":"cdf","x":0.022,"y":0.985},{"k":"cdf","x":0.03,"y":0.997},{"k":"cdf","x":0.04,"y":0.9995},{"k":"cdf","x":0.0538,"y":1.0},
{"k":"ccdf","x":-0.0264,"y":1.0},{"k":"ccdf","x":-0.012,"y":0.999},{"k":"ccdf","x":-0.007,"y":0.99},{"k":"ccdf","x":-0.004,"y":0.96},{"k":"ccdf","x":-0.0015,"y":0.88},{"k":"ccdf","x":0.0009,"y":0.73},{"k":"ccdf","x":0.0034,"y":0.54},{"k":"ccdf","x":0.006,"y":0.37},{"k":"ccdf","x":0.009,"y":0.24},{"k":"ccdf","x":0.0125,"y":0.153},{"k":"ccdf","x":0.0147,"y":0.115},{"k":"ccdf","x":0.0202,"y":0.056},{"k":"ccdf","x":0.0246,"y":0.0324},{"k":"ccdf","x":0.0291,"y":0.0179},{"k":"ccdf","x":0.0334,"y":0.0108},{"k":"ccdf","x":0.0346,"y":0.0092}
],
"d_ol": [
{"k":"cdf","x":-0.0264,"y":0.011},{"k":"cdf","x":-0.0211,"y":0.025},{"k":"cdf","x":-0.0183,"y":0.04},{"k":"cdf","x":-0.0156,"y":0.061},{"k":"cdf","x":-0.0128,"y":0.093},{"k":"cdf","x":-0.01,"y":0.147},{"k":"cdf","x":-0.0073,"y":0.215},{"k":"cdf","x":-0.0046,"y":0.3},{"k":"cdf","x":-0.0018,"y":0.44},{"k":"cdf","x":0.0009,"y":0.62},{"k":"cdf","x":0.0042,"y":0.76},{"k":"cdf","x":0.0092,"y":0.9},{"k":"cdf","x":0.0147,"y":0.97},{"k":"cdf","x":0.022,"y":0.993},{"k":"cdf","x":0.03,"y":0.998},{"k":"cdf","x":0.0538,"y":1.0},
{"k":"ccdf","x":-0.0264,"y":1.0},{"k":"ccdf","x":-0.02,"y":0.99},{"k":"ccdf","x":-0.0156,"y":0.965},{"k":"ccdf","x":-0.0101,"y":0.9},{"k":"ccdf","x":-0.0057,"y":0.76},{"k":"ccdf","x":-0.0007,"y":0.5},{"k":"ccdf","x":0.002,"y":0.33},{"k":"ccdf","x":0.0048,"y":0.215},{"k":"ccdf","x":0.0081,"y":0.141},{"k":"ccdf","x":0.0109,"y":0.092},{"k":"ccdf","x":0.0136,"y":0.058},{"k":"ccdf","x":0.0147,"y":0.051},{"k":"ccdf","x":0.0169,"y":0.038},{"k":"ccdf","x":0.0191,"y":0.027},{"k":"ccdf","x":0.0213,"y":0.0195},{"k":"ccdf","x":0.0235,"y":0.0145},{"k":"ccdf","x":0.0257,"y":0.0108},{"k":"ccdf","x":0.0268,"y":0.0091}
],
"d_bd": [
{"x":-0.0101,"y":0.01},{"x":-0.008,"y":0.02},{"x":-0.0076,"y":0.03},{"x":-0.0051,"y":0.04},{"x":-0.005,"y":0.05},{"x":-0.0046,"y":0.06},{"x":-0.0038,"y":0.07},{"x":-0.0035,"y":0.08},{"x":-0.0032,"y":0.09},{"x":-0.003,"y":0.1},{"x":-0.0028,"y":0.112},{"x":-0.0026,"y":0.124},{"x":-0.0025,"y":0.141},{"x":-0.002,"y":0.154},{"x":-0.0015,"y":0.167},{"x":-0.001,"y":0.174},{"x":-0.0002,"y":0.19},{"x":0.0004,"y":0.215},{"x":0.0009,"y":0.245},{"x":0.0015,"y":0.277},{"x":0.002,"y":0.314},{"x":0.0026,"y":0.356},{"x":0.0031,"y":0.405},{"x":0.0037,"y":0.46},{"x":0.0042,"y":0.51},{"x":0.0048,"y":0.58},{"x":0.0053,"y":0.64},{"x":0.0064,"y":0.7},{"x":0.0081,"y":0.76},{"x":0.0098,"y":0.81},{"x":0.012,"y":0.86},{"x":0.0142,"y":0.92},{"x":0.017,"y":0.95},{"x":0.02,"y":0.97},{"x":0.023,"y":0.985},{"x":0.026,"y":0.99},{"x":0.03,"y":0.995},{"x":0.034,"y":0.998},{"x":0.04,"y":1.0},{"x":0.049,"y":1.0},
{"x":-0.0101,"y":1.0},{"x":-0.0079,"y":0.98},{"x":-0.0051,"y":0.96},{"x":-0.0035,"y":0.92},{"x":-0.0018,"y":0.86},{"x":-0.0004,"y":0.83},{"x":0.0009,"y":0.76},{"x":0.002,"y":0.67},{"x":0.0031,"y":0.59},{"x":0.0042,"y":0.51},{"x":0.0051,"y":0.44},{"x":0.0053,"y":0.39},{"x":0.0059,"y":0.34},{"x":0.007,"y":0.314},{"x":0.0081,"y":0.277},{"x":0.0087,"y":0.235},{"x":0.0098,"y":0.197},{"x":0.0103,"y":0.174},{"x":0.0109,"y":0.154},{"x":0.0109,"y":0.141},{"x":0.0111,"y":0.13},{"x":0.0125,"y":0.12},{"x":0.013,"y":0.11},{"x":0.0134,"y":0.1},{"x":0.014,"y":0.09},{"x":0.014,"y":0.08},{"x":0.0152,"y":0.07},{"x":0.016,"y":0.06},{"x":0.0166,"y":0.05},{"x":0.0205,"y":0.04},{"x":0.0228,"y":0.03},{"x":0.023,"y":0.02},{"x":0.0264,"y":0.01}
],
"d_od": [
{"x":-0.0243,"y":0.01},{"x":-0.02,"y":0.02},{"x":-0.0159,"y":0.03},{"x":-0.0159,"y":0.04},{"x":-0.0156,"y":0.05},{"x":-0.0148,"y":0.06},{"x":-0.014,"y":0.07},{"x":-0.0134,"y":0.08},{"x":-0.0117,"y":0.09},{"x":-0.0112,"y":0.1},{"x":-0.0107,"y":0.112},{"x":-0.0104,"y":0.124},{"x":-0.0098,"y":0.141},{"x":-0.009,"y":0.16},{"x":-0.0084,"y":0.178},{"x":-0.0076,"y":0.197},{"x":-0.0068,"y":0.224},{"x":-0.0057,"y":0.265},{"x":-0.0046,"y":0.314},{"x":-0.0035,"y":0.372},{"x":-0.0024,"y":0.44},{"x":-0.0013,"y":0.51},{"x":-0.0002,"y":0.58},{"x":0.0009,"y":0.64},{"x":0.0026,"y":0.73},{"x":0.0048,"y":0.79},{"x":0.0076,"y":0.845},{"x":0.0109,"y":0.9},{"x":0.0142,"y":0.96},{"x":0.017,"y":0.975},{"x":0.02,"y":0.985},{"x":0.0213,"y":0.99},{"x":0.024,"y":0.995},{"x":0.03,"y":0.998},{"x":0.035,"y":1.0},{"x":0.04,"y":1.0},{"x":0.047,"y":1.0},{"x":0.052,"y":1.0},
{"x":-0.0244,"y":1.0},{"x":-0.02,"y":0.99},{"x":-0.0156,"y":0.96},{"x":-0.0134,"y":0.93},{"x":-0.0101,"y":0.88},{"x":-0.0079,"y":0.83},{"x":-0.0057,"y":0.76},{"x":-0.004,"y":0.67},{"x":-0.0024,"y":0.59},{"x":-0.0007,"y":0.5},{"x":0.0004,"y":0.42},{"x":0.0009,"y":0.356},{"x":0.0026,"y":0.3},{"x":0.0042,"y":0.255},{"x":0.0053,"y":0.224},{"x":0.0064,"y":0.197},{"x":0.0076,"y":0.174},{"x":0.0081,"y":0.157},{"x":0.0092,"y":0.13},{"x":0.0098,"y":0.117},{"x":0.0114,"y":0.1},{"x":0.0128,"y":0.08},{"x":0.0128,"y":0.0703},{"x":0.0131,"y":0.0594},{"x":0.0134,"y":0.05},{"x":0.0139,"y":0.04},{"x":0.015,"y":0.03},{"x":0.0186,"y":0.02},{"x":0.0208,"y":0.01}
]
},
"vconcat": [
 {"hconcat": [
  {"width": 488, "height": 375,
   "title": {"text": "a", "anchor": "start", "frame": "group", "dx": -121, "offset": 13, "font": "Liberation Serif", "fontSize": 17, "fontWeight": "bold", "color": "black"},
   "layer": [
    {"data": {"name": "a_day"},
     "mark": {"type": "point", "shape": "circle", "filled": false, "size": 240, "strokeWidth": 1.3, "opacity": 1, "clip": true},
     "encoding": {
      "x": {"field": "x", "type": "quantitative", "scale": {"type": "log", "domain": [1.33e-5, 1.42e-3], "nice": false},
        "axis": {"values": [2e-5,3e-5,4e-5,5e-5,6e-5,7e-5,8e-5,9e-5,1e-4,2e-4,3e-4,4e-4,5e-4,6e-4,7e-4,8e-4,9e-4,1e-3],
          "labelExpr": "abs(log(datum.value)/LN10 - round(log(datum.value)/LN10)) < 0.01 ? '10' + replace(replace(replace(replace(replace(replace('' + round(log(datum.value)/LN10), '-', '⁻'), '0', '⁰'), '1', '¹'), '2', '²'), '3', '³'), '4', '⁴') : ''",
          "tickSize": {"condition": {"test": "abs(log(datum.value)/LN10 - round(log(datum.value)/LN10)) < 0.01", "value": -7}, "value": -4},
          "labelPadding": 35, "labelFontSize": 25, "title": "Empirical variance", "titleFontSize": 31, "titlePadding": 0}},
      "y": {"field": "y", "type": "quantitative", "scale": {"type": "log", "domain": [1.5e-5, 2.35e-2], "nice": false},
        "axis": {"values": [2e-5,3e-5,4e-5,5e-5,6e-5,7e-5,8e-5,9e-5,1e-4,2e-4,3e-4,4e-4,5e-4,6e-4,7e-4,8e-4,9e-4,1e-3,2e-3,3e-3,4e-3,5e-3,6e-3,7e-3,8e-3,9e-3,1e-2,2e-2],
          "labelExpr": "abs(log(datum.value)/LN10 - round(log(datum.value)/LN10)) < 0.01 ? '10' + replace(replace(replace(replace(replace(replace('' + round(log(datum.value)/LN10), '-', '⁻'), '0', '⁰'), '1', '¹'), '2', '²'), '3', '³'), '4', '⁴') : ''",
          "tickSize": {"condition": {"test": "abs(log(datum.value)/LN10 - round(log(datum.value)/LN10)) < 0.01", "value": -7}, "value": -4},
          "labelPadding": 20, "labelFontSize": 25, "title": "Ensemble variance", "titleFontSize": 31, "titlePadding": 10}},
      "color": {"datum": "day", "type": "nominal", "scale": {"domain": ["stock", "day"], "range": ["#D95319", "#0072BD"]},
        "legend": {"orient": "none", "legendX": 27, "legendY": 27, "title": null, "padding": 6, "strokeColor": "#262626", "fillColor": "white", "symbolSize": 225, "symbolStrokeWidth": 1.3, "symbolType": "circle", "symbolOffset": 24, "labelFont": "Liberation Serif", "labelFontSize": 33, "labelOffset": 31, "rowPadding": 4, "labelColor": "black"}}
     }},
    {"data": {"name": "a_stock"},
     "mark": {"type": "point", "shape": "circle", "filled": false, "size": 240, "strokeWidth": 1.3, "opacity": 1, "clip": true},
     "encoding": {"x": {"field": "x", "type": "quantitative"}, "y": {"field": "y", "type": "quantitative"}, "color": {"datum": "stock", "type": "nominal"}}},
    {"data": {"values": [{"x": 1.5e-5, "y": 1.5e-5}, {"x": 1.42e-3, "y": 1.42e-3}]},
     "mark": {"type": "line", "color": "black", "strokeDash": [10, 6], "strokeWidth": 2, "clip": true},
     "encoding": {"x": {"field": "x", "type": "quantitative"}, "y": {"field": "y", "type": "quantitative"}}}
   ]},
  {"width": 501, "height": 372,
   "title": {"text": "b", "anchor": "start", "frame": "group", "dx": -112, "offset": 13, "font": "Liberation Serif", "fontSize": 17, "fontWeight": "bold", "color": "black"},
   "layer": [
    {"data": {"name": "b_day"},
     "mark": {"type": "point", "shape": "circle", "filled": false, "size": 240, "strokeWidth": 1.3, "opacity": 1, "clip": true},
     "encoding": {
      "x": {"field": "x", "type": "quantitative", "scale": {"domain": [-7.85, 8.43], "nice": false, "zero": false},
        "axis": {"values": [-5, 0, 5], "labelExpr": "(datum.value < 0 ? '-' : '') + format(abs(datum.value), 'd')", "tickSize": -7, "labelPadding": 25, "labelFontSize": 26, "title": "Empirical skewness", "titleFontSize": 39, "titlePadding": 4}},
      "y": {"field": "y", "type": "quantitative", "scale": {"domain": [-5, 6.9], "nice": false, "zero": false},
        "axis": {"values": [-4, -2, 0, 2, 4, 6], "labelExpr": "(datum.value < 0 ? '-' : '') + format(abs(datum.value), 'd')", "tickSize": -7, "labelPadding": 20, "labelFontSize": 26, "title": "Ensemble skewness", "titleFontSize": 39, "titlePadding": 14}},
      "color": {"datum": "day", "type": "nominal", "scale": {"domain": ["stock", "day"], "range": ["#D95319", "#0072BD"]},
        "legend": {"orient": "none", "legendX": 302, "legendY": 27, "title": null, "padding": 6, "strokeColor": "#262626", "fillColor": "white", "symbolSize": 225, "symbolStrokeWidth": 1.3, "symbolType": "circle", "symbolOffset": 24, "labelFont": "Liberation Serif", "labelFontSize": 33, "labelOffset": 31, "rowPadding": 4, "labelColor": "black"}}
     }},
    {"data": {"name": "b_stock"},
     "mark": {"type": "point", "shape": "circle", "filled": false, "size": 240, "strokeWidth": 1.3, "opacity": 1, "clip": true},
     "encoding": {"x": {"field": "x", "type": "quantitative"}, "y": {"field": "y", "type": "quantitative"}, "color": {"datum": "stock", "type": "nominal"}}},
    {"data": {"values": [{"x": -5, "y": -5}, {"x": 6.9, "y": 6.9}]},
     "mark": {"type": "line", "color": "black", "strokeDash": [10, 6], "strokeWidth": 2, "clip": true},
     "encoding": {"x": {"field": "x", "type": "quantitative"}, "y": {"field": "y", "type": "quantitative"}}}
   ]}
 ], "spacing": 174, "bounds": "flush",
 "resolve": {"scale": {"color": "independent"}, "legend": {"color": "independent"}}},
 {"hconcat": [
  {"width": 488, "height": 382,
   "title": {"text": "c", "anchor": "start", "frame": "group", "dx": -121, "offset": 14, "font": "Liberation Serif", "fontSize": 17, "fontWeight": "bold", "color": "black"},
   "layer": [
    {"data": {"name": "c_bl"},
     "mark": {"type": "line", "color": "#0072BD", "strokeDash": [12, 7], "strokeWidth": 2, "clip": true},
     "encoding": {
      "x": {"field": "x", "type": "quantitative", "scale": {"domain": [-0.0612, 0.0803], "nice": false, "zero": false},
        "axis": {"values": [-0.05, 0, 0.05], "labelExpr": "datum.value == 0 ? '0' : (datum.value < 0 ? '-' : '') + format(abs(datum.value), '.2f')", "tickSize": -7, "labelPadding": 26, "labelFontSize": 25, "title": "r", "titleFontSize": 28, "titlePadding": 6}},
      "y": {"field": "y", "type": "quantitative", "scale": {"type": "log", "domain": [0.00161, 1.11], "nice": false},
        "axis": {"values": [0.002,0.003,0.004,0.005,0.006,0.007,0.008,0.009,0.01,0.02,0.03,0.04,0.05,0.06,0.07,0.08,0.09,0.1,0.2,0.3,0.4,0.5,0.6,0.7,0.8,0.9,1],
          "labelExpr": "abs(log(datum.value)/LN10 - round(log(datum.value)/LN10)) < 0.01 ? '10' + replace(replace(replace(replace(replace(replace('' + round(log(datum.value)/LN10), '-', '⁻'), '0', '⁰'), '1', '¹'), '2', '²'), '3', '³'), '4', '⁴') : ''",
          "tickSize": {"condition": {"test": "abs(log(datum.value)/LN10 - round(log(datum.value)/LN10)) < 0.01", "value": -7}, "value": -4},
          "labelPadding": 21, "labelFontSize": 25, "title": "P(r ≤ x) || P(r ≥ x)", "titleFontStyle": "italic", "titleFontSize": 33, "titlePadding": 12}},
      "detail": {"field": "k"}
     }},
    {"data": {"name": "c_ol"},
     "mark": {"type": "line", "color": "#D95319", "strokeDash": [12, 7], "strokeWidth": 2, "clip": true},
     "encoding": {"x": {"field": "x", "type": "quantitative"}, "y": {"field": "y", "type": "quantitative"}, "detail": {"field": "k"}}},
    {"data": {"name": "c_bd"},
     "mark": {"type": "circle", "size": 24, "color": "#0072BD", "opacity": 1, "clip": true},
     "encoding": {"x": {"field": "x", "type": "quantitative"}, "y": {"field": "y", "type": "quantitative"}}},
    {"data": {"name": "c_od"},
     "mark": {"type": "circle", "size": 24, "color": "#D95319", "opacity": 1, "clip": true},
     "encoding": {"x": {"field": "x", "type": "quantitative"}, "y": {"field": "y", "type": "quantitative"}}},
    {"data": {"values": [{"leg": "empirical MSFT", "x": 1, "y": 0.5}, {"leg": "ensemble PEP", "x": 1, "y": 0.5}]},
     "mark": {"type": "point", "filled": true, "size": 1089, "opacity": 1, "clip": true},
     "encoding": {"x": {"field": "x", "type": "quantitative"}, "y": {"field": "y", "type": "quantitative"},
      "color": {"field": "leg", "type": "nominal", "scale": {"domain": ["empirical MSFT", "ensemble PEP"], "range": ["#0072BD", "#D95319"]},
        "legend": {"orient": "none", "legendX": 252, "legendY": 27, "title": null, "padding": 3, "strokeColor": "#262626", "fillColor": "white", "symbolSize": 1089, "symbolOffset": 24, "labelFont": "Liberation Serif", "labelFontSize": 28, "labelOffset": 30, "rowPadding": -2, "labelColor": "black", "labelLimit": 0, "symbolStrokeWidth": 0, "labelExpr": "datum.label == 'empirical MSFT' ? ['empirical', 'MSFT'] : ['ensemble', 'PEP']"}},
      "shape": {"field": "leg", "type": "nominal", "scale": {"domain": ["empirical MSFT", "ensemble PEP"], "range": ["M0.164,1A0.164,0.164,0,1,1,-0.164,1A0.164,0.164,0,1,1,0.164,1Z", "M-2.36,0.924H-0.85V1.076H-2.36Z M-0.36,0.924H1.15V1.076H-0.36Z M1.58,0.924H2.36V1.076H1.58Z"]},
        "legend": {"orient": "none", "legendX": 252, "legendY": 27, "title": null, "padding": 3, "strokeColor": "#262626", "fillColor": "white", "symbolSize": 1089, "symbolOffset": 24, "labelFont": "Liberation Serif", "labelFontSize": 28, "labelOffset": 30, "rowPadding": -2, "labelColor": "black", "labelLimit": 0, "symbolStrokeWidth": 0, "labelExpr": "datum.label == 'empirical MSFT' ? ['empirical', 'MSFT'] : ['ensemble', 'PEP']"}}
     }}
   ]},
  {"width": 488, "height": 382,
   "title": {"text": "d", "anchor": "start", "frame": "group", "dx": -121, "offset": 14, "font": "Liberation Serif", "fontSize": 17, "fontWeight": "bold", "color": "black"},
   "layer": [
    {"data": {"name": "d_bl"},
     "mark": {"type": "line", "color": "#0072BD", "strokeDash": [12, 7], "strokeWidth": 2, "clip": true},
     "encoding": {
      "x": {"field": "x", "type": "quantitative", "scale": {"domain": [-0.0264, 0.0538], "nice": false, "zero": false},
        "axis": {"values": [-0.02, 0, 0.02, 0.04], "labelExpr": "datum.value == 0 ? '0' : (datum.value < 0 ? '-' : '') + format(abs(datum.value), '.2f')", "tickSize": -7, "labelPadding": 24, "labelFontSize": 25, "title": "r", "titleFontSize": 28, "titlePadding": 6}},
      "y": {"field": "y", "type": "quantitative", "scale": {"type": "log", "domain": [0.009, 1.11], "nice": false},
        "axis": {"values": [0.01,0.02,0.03,0.04,0.05,0.06,0.07,0.08,0.09,0.1,0.2,0.3,0.4,0.5,0.6,0.7,0.8,0.9,1],
          "labelExpr": "abs(log(datum.value)/LN10 - round(log(datum.value)/LN10)) < 0.01 ? '10' + replace(replace(replace(replace(replace(replace('' + round(log(datum.value)/LN10), '-', '⁻'), '0', '⁰'), '1', '¹'), '2', '²'), '3', '³'), '4', '⁴') : ''",
          "tickSize": {"condition": {"test": "abs(log(datum.value)/LN10 - round(log(datum.value)/LN10)) < 0.01", "value": -7}, "value": -4},
          "labelPadding": 12, "labelFontSize": 25, "title": "P(r ≤ x) || P(r ≥ x)", "titleFontStyle": "italic", "titleFontSize": 33, "titlePadding": 19}},
      "detail": {"field": "k"}
     }},
    {"data": {"name": "d_ol"},
     "mark": {"type": "line", "color": "#D95319", "strokeDash": [12, 7], "strokeWidth": 2, "clip": true},
     "encoding": {"x": {"field": "x", "type": "quantitative"}, "y": {"field": "y", "type": "quantitative"}, "detail": {"field": "k"}}},
    {"data": {"name": "d_bd"},
     "mark": {"type": "circle", "size": 24, "color": "#0072BD", "opacity": 1, "clip": true},
     "encoding": {"x": {"field": "x", "type": "quantitative"}, "y": {"field": "y", "type": "quantitative"}}},
    {"data": {"name": "d_od"},
     "mark": {"type": "circle", "size": 24, "color": "#D95319", "opacity": 1, "clip": true},
     "encoding": {"x": {"field": "x", "type": "quantitative"}, "y": {"field": "y", "type": "quantitative"}}},
    {"data": {"values": [{"leg": "empirical 05/03/2017", "x": 1, "y": 0.5}, {"leg": "ensemble 18/02/2018", "x": 1, "y": 0.5}]},
     "mark": {"type": "point", "filled": true, "size": 1089, "opacity": 1, "clip": true},
     "encoding": {"x": {"field": "x", "type": "quantitative"}, "y": {"field": "y", "type": "quantitative"},
      "color": {"field": "leg", "type": "nominal", "scale": {"domain": ["empirical 05/03/2017", "ensemble 18/02/2018"], "range": ["#0072BD", "#D95319"]},
        "legend": {"orient": "none", "legendX": 226, "legendY": 27, "title": null, "padding": 3, "strokeColor": "#262626", "fillColor": "white", "symbolSize": 1089, "symbolOffset": 24, "labelFont": "Liberation Serif", "labelFontSize": 28, "labelOffset": 30, "rowPadding": -2, "labelColor": "black", "labelLimit": 0, "symbolStrokeWidth": 0, "labelExpr": "datum.label == 'empirical 05/03/2017' ? ['empirical', '05/03/2017'] : ['ensemble', '18/02/2018']"}},
      "shape": {"field": "leg", "type": "nominal", "scale": {"domain": ["empirical 05/03/2017", "ensemble 18/02/2018"], "range": ["M0.164,1A0.164,0.164,0,1,1,-0.164,1A0.164,0.164,0,1,1,0.164,1Z", "M-2.36,0.924H-0.85V1.076H-2.36Z M-0.36,0.924H1.15V1.076H-0.36Z M1.58,0.924H2.36V1.076H1.58Z"]},
        "legend": {"orient": "none", "legendX": 226, "legendY": 27, "title": null, "padding": 3, "strokeColor": "#262626", "fillColor": "white", "symbolSize": 1089, "symbolOffset": 24, "labelFont": "Liberation Serif", "labelFontSize": 28, "labelOffset": 30, "rowPadding": -2, "labelColor": "black", "labelLimit": 0, "symbolStrokeWidth": 0, "labelExpr": "datum.label == 'empirical 05/03/2017' ? ['empirical', '05/03/2017'] : ['ensemble', '18/02/2018']"}}
     }}
   ]}
 ], "spacing": 187, "bounds": "flush",
 "resolve": {"scale": {"color": "independent", "shape": "independent"}, "legend": {"color": "independent", "shape": "independent"}}}
],
"spacing": 4, "bounds": "full",
"resolve": {"scale": {"color": "independent", "shape": "independent"}, "legend": {"color": "independent", "shape": "independent"}}
}
